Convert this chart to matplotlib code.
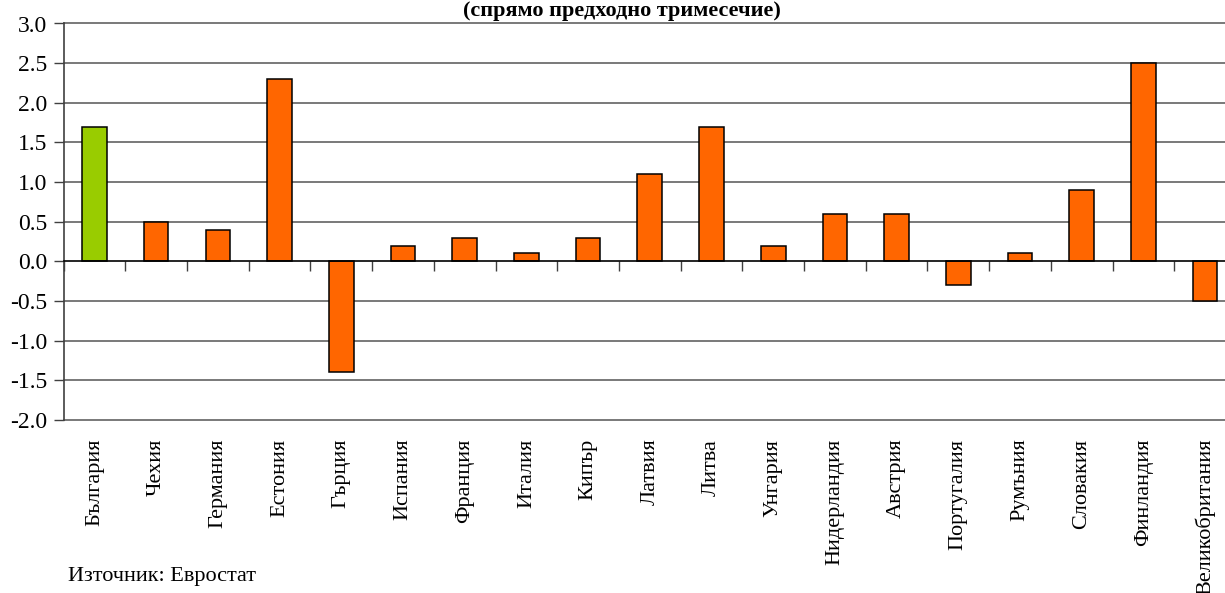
import matplotlib
matplotlib.use("Agg")
import matplotlib.pyplot as plt
import numpy as np

categories = ["България", "Чехия", "Германия", "Естония", "Гърция", "Испания",
              "Франция", "Италия", "Кипър", "Латвия", "Литва", "Унгария",
              "Нидерландия", "Австрия", "Португалия", "Румъния", "Словакия",
              "Финландия", "Великобритания"]
values = [1.7, 0.5, 0.4, 2.3, -1.4, 0.2, 0.3, 0.1, 0.3, 1.1, 1.7, 0.2,
          0.6, 0.6, -0.3, 0.1, 0.9, 2.5, -0.5]
highlight = "България"
y_ticks = [-2.0, -1.5, -1.0, -0.5, 0.0, 0.5, 1.0, 1.5, 2.0, 2.5, 3.0]
title = "(спрямо предходно тримесечие)"
source = "Източник: Евростат"

plt.rcParams['font.family'] = ['Liberation Serif', 'DejaVu Serif']

W, H = 1225, 593
fig = plt.figure(figsize=(W / 100, H / 100), dpi=100)
left, right, top, bottom = 63.6, 1236.0, 23.5, 420.0
ax = fig.add_axes([left / W, 1 - bottom / H, (right - left) / W, (bottom - top) / H])

x = np.arange(len(categories))
colors = ['#99CC00' if c == highlight else '#FF6600' for c in categories]
ax.bar(x, values, width=0.4, color=colors, edgecolor='black', linewidth=1.1, zorder=3)

ax.set_xlim(-0.5, len(categories) - 0.5)
ax.set_ylim(y_ticks[0], y_ticks[-1])
ax.set_yticks(y_ticks)
ax.set_yticklabels([f"{v:.1f}" for v in y_ticks], fontsize=17)
ax.tick_params(axis='y', length=7, width=1, color='#404040', pad=5)
for v in y_ticks:
    if v != 0:
        ax.axhline(v, color='#555555', linewidth=1.1, zorder=1, clip_on=False)

for s in ['top', 'right']:
    ax.spines[s].set_visible(False)
ax.spines['left'].set_color('#404040')
ax.spines['left'].set_linewidth(1.2)
ax.spines['bottom'].set_position(('data', 0))
ax.spines['bottom'].set_color('black')
ax.spines['bottom'].set_linewidth(1.2)
ax.spines['bottom'].set_zorder(4)

ax.set_xticks(np.arange(len(categories) + 1) - 0.5)
ax.set_xticklabels([])
ax.tick_params(axis='x', length=7, width=1, direction='out', color='#404040')

for xi, c in zip(x, categories):
    ax.text(xi, -0.047, c, transform=ax.get_xaxis_transform(), rotation=90,
            ha='center', va='top', fontsize=16)

fig.text(621.7 / W, 1 - 16 / H, title, ha='center', va='baseline',
         fontsize=16, fontweight='bold')
fig.text(68 / W, 1 - 581 / H, source, ha='left', va='baseline', fontsize=16)

fig.savefig("out.png", dpi=100)
